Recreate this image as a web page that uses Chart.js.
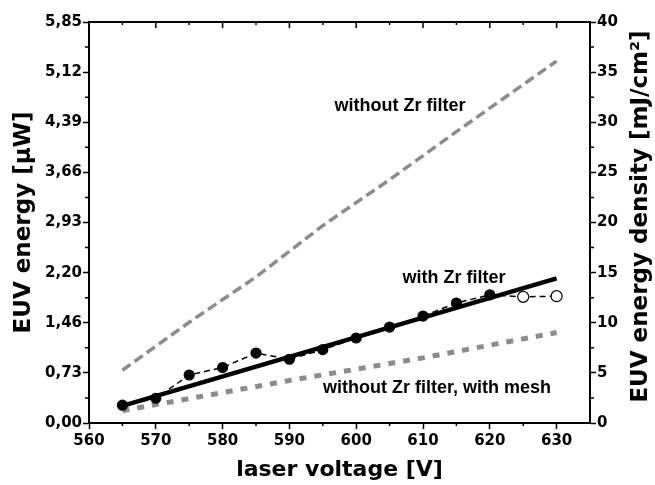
<!DOCTYPE html>
<html>
<head>
<meta charset="utf-8">
<script src="https://cdn.jsdelivr.net/npm/chart.js@4/dist/chart.umd.min.js"></script>
<style>
  html, body { margin: 0; padding: 0; background: #fff; }
</style>
</head>
<body>
<canvas id="chart" width="655" height="485"></canvas>
<script>
'use strict';

// with Zr filter, measured points (last two drawn as open circles)
const zrVoltage = [565, 570, 575, 580, 585, 590, 595, 600, 605, 610, 615, 620, 625, 630];
const zrEnergy = [0.26, 0.36, 0.70, 0.81, 1.02, 0.93, 1.07, 1.24, 1.40, 1.56, 1.75, 1.87, 1.84, 1.85];
const zrOpenFrom = 12;

// linear fit through the Zr filter points
const fitVoltage = [565, 630];
const fitEnergy = [0.25, 2.11];

// without Zr filter
const noZrVoltage = [565, 575, 585, 595, 605, 615, 630];
const noZrEnergy = [0.77, 1.47, 2.13, 2.88, 3.55, 4.25, 5.28];

// without Zr filter, with mesh
const meshVoltage = [565, 590, 610, 630];
const meshEnergy = [0.18, 0.62, 0.95, 1.32];

const xTicks = [560, 570, 580, 590, 600, 610, 620, 630];
const leftTickLabels = ['0,00', '0,73', '1,46', '2,20', '2,93', '3,66', '4,39', '5,12', '5,85'];
const leftStep = 0.73125;
const rightTicks = [0, 5, 10, 15, 20, 25, 30, 35, 40];

const toPoints = (xs, ys) => xs.map((x, i) => ({ x: x, y: ys[i] }));

const tickFont = { family: 'DejaVu Sans', weight: 'bold', size: 15 };
const titleFont = { family: 'DejaVu Sans', weight: 'bold', size: 23 };
const noteFont = 'bold 18px "Liberation Sans"';

const extras = {
  id: 'extras',
  afterDraw(chart) {
    const ctx = chart.ctx;
    const area = chart.chartArea;
    const x = chart.scales.x;
    const y = chart.scales.y;
    const y2 = chart.scales.y2;
    ctx.save();
    ctx.strokeStyle = '#000';
    ctx.lineWidth = 2;
    // top frame
    ctx.beginPath();
    ctx.moveTo(area.left, area.top);
    ctx.lineTo(area.right + 1, area.top);
    ctx.stroke();
    ctx.lineWidth = 1.5;
    ctx.beginPath();
    // x minor ticks (bottom, outward) and top ticks (inward)
    for (let v = 565; v < 635; v += 10) {
      const px = x.getPixelForValue(v);
      ctx.moveTo(px, area.bottom); ctx.lineTo(px, area.bottom + 3);
      ctx.moveTo(px, area.top); ctx.lineTo(px, area.top + 3);
    }
    for (let i = 1; i < xTicks.length; i++) {
      const px = x.getPixelForValue(xTicks[i]);
      ctx.moveTo(px, area.top); ctx.lineTo(px, area.top + 6);
    }
    // left minor ticks
    for (let i = 0; i < leftTickLabels.length - 1; i++) {
      const py = y.getPixelForValue((i + 0.5) * leftStep);
      ctx.moveTo(area.left, py); ctx.lineTo(area.left - 4, py);
    }
    // right minor ticks
    for (let i = 0; i < rightTicks.length - 1; i++) {
      const py = y2.getPixelForValue(rightTicks[i] + 2.5);
      ctx.moveTo(area.right, py); ctx.lineTo(area.right + 4, py);
    }
    ctx.stroke();

    // right axis title, reading bottom to top
    ctx.fillStyle = '#000';
    ctx.font = 'bold 23px "DejaVu Sans"';
    ctx.textAlign = 'center';
    ctx.textBaseline = 'middle';
    ctx.save();
    ctx.translate(641, (area.top + area.bottom) / 2 - 6);
    ctx.rotate(-Math.PI / 2);
    ctx.fillText('EUV energy density [mJ/cm²]', 0, 0);
    ctx.restore();

    // curve labels
    ctx.font = noteFont;
    ctx.fillText('without Zr filter', 400, 106);
    ctx.fillText('with Zr filter', 454, 278);
    ctx.fillText('without Zr filter, with mesh', 437, 388);
    ctx.restore();
  }
};

const data = {
  datasets: [
    {
      label: 'with Zr filter',
      data: toPoints(zrVoltage, zrEnergy),
      showLine: true,
      borderColor: '#000',
      borderWidth: 1.5,
      borderDash: [6, 4],
      pointRadius: (c) => (c.dataIndex >= zrOpenFrom ? 5.5 : 5),
      pointBackgroundColor: (c) => (c.dataIndex >= zrOpenFrom ? '#fff' : '#000'),
      pointBorderColor: '#000',
      pointBorderWidth: 1.2,
    },
    {
      label: 'fit',
      data: toPoints(fitVoltage, fitEnergy),
      showLine: true,
      borderColor: '#000',
      borderWidth: 4.5,
      pointRadius: 0,
    },
    {
      label: 'without Zr filter',
      data: toPoints(noZrVoltage, noZrEnergy),
      showLine: true,
      borderColor: '#8c8c8c',
      borderWidth: 3.5,
      borderDash: [10, 5],
      pointRadius: 0,
    },
    {
      label: 'without Zr filter, with mesh',
      data: toPoints(meshVoltage, meshEnergy),
      showLine: true,
      borderColor: '#8c8c8c',
      borderWidth: 5,
      borderDash: [7, 8],
      pointRadius: 0,
    },
  ],
};

const config = {
  type: 'scatter',
  data: data,
  plugins: [extras],
  options: {
    responsive: false,
    animation: false,
    devicePixelRatio: 1,
    layout: { padding: { top: 22, left: 0, right: 0, bottom: 0 } },
    plugins: { legend: { display: false }, tooltip: { enabled: false } },
    scales: {
      x: {
        type: 'linear',
        position: 'bottom',
        min: 560,
        max: 635,
        afterBuildTicks: (s) => { s.ticks = xTicks.map((v) => ({ value: v })); },
        afterFit: (s) => { s.height = 62; },
        ticks: { font: tickFont, color: '#000', padding: 3, maxRotation: 0, autoSkip: false },
        grid: { drawOnChartArea: false, tickLength: 6, tickWidth: 1.5, tickColor: '#000' },
        border: { color: '#000', width: 2 },
        title: { display: true, text: 'laser voltage [V]', font: { family: 'DejaVu Sans', weight: 'bold', size: 22 }, color: '#000', padding: { top: 0, bottom: 2 } },
      },
      y: {
        type: 'linear',
        position: 'left',
        min: 0,
        max: 5.85,
        afterBuildTicks: (s) => { s.ticks = leftTickLabels.map((l, i) => ({ value: i * leftStep })); },
        afterFit: (s) => { s.width = 89; },
        ticks: { font: tickFont, color: '#000', padding: 1, callback: (v, i) => leftTickLabels[i] },
        grid: { drawOnChartArea: false, tickLength: 6, tickWidth: 1.5, tickColor: '#000' },
        border: { color: '#000', width: 2 },
        title: { display: true, text: 'EUV energy [μW]', font: titleFont, color: '#000', padding: { top: 10, bottom: 0 } },
      },
      y2: {
        type: 'linear',
        position: 'right',
        min: 0,
        max: 40,
        afterBuildTicks: (s) => { s.ticks = rightTicks.map((v) => ({ value: v })); },
        afterFit: (s) => { s.width = 65; },
        ticks: { font: tickFont, color: '#000', padding: 1 },
        grid: { drawOnChartArea: false, tickLength: 6, tickWidth: 1.5, tickColor: '#000' },
        border: { color: '#000', width: 2 },
      },
    },
  },
};

const myChart = new Chart(document.getElementById('chart'), config);
</script>
</body>
</html>
